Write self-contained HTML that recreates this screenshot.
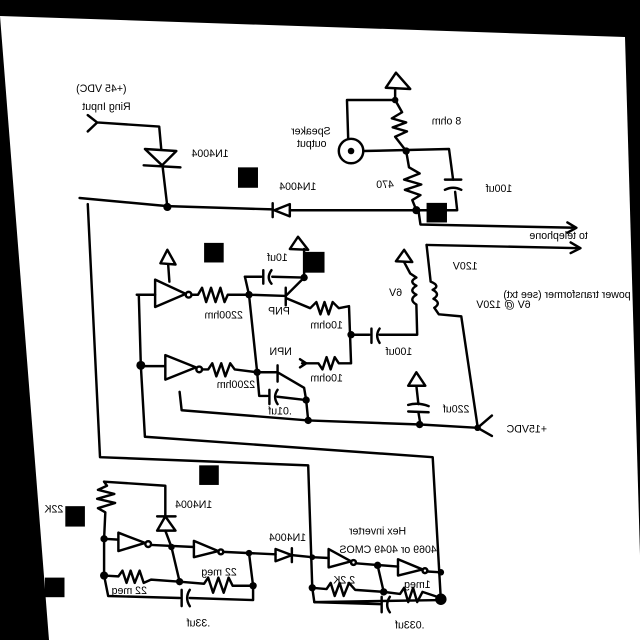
<!DOCTYPE html>
<html><head><meta charset="utf-8"><style>
html,body{margin:0;padding:0;background:#000;}
svg{display:block}
text{font-family:"Liberation Sans",sans-serif;fill:#000;}
</style></head><body>
<svg width="640" height="640" viewBox="0 0 640 640" xmlns="http://www.w3.org/2000/svg">
<rect width="640" height="640" fill="#000"/>
<polygon points="0,16 625,37 640,555 640,640 49,640" fill="#fff"/>
<g transform="scale(0.4082)" fill="none" stroke="#000" stroke-width="6" stroke-linejoin="round" stroke-linecap="round">
<path d="M215,282 L238,300 L215,322 M238,300 L390,310 L395,365"/>
<polygon points="355,365 432,370 397,405"/>
<path d="M352,405 L442,410 M398,405 L410,507"/>
<path d="M195,485 L410,505 L668,513 M710,515 L1020,515 L1120,515 L1115,470"/>
<polygon points="672,515 710,500 710,530"/>
<path d="M668,498 L668,532"/>
<polygon points="970,178 945,215 1005,218"/>
<path d="M968,220 L968,245 L850,245 L853,340"/>
<circle cx="860" cy="370" r="30"/>
<path d="M890,370 L1100,365 L1110,440"/>
<path d="M968,245 L985,275 L960,290 L995,300 L962,312 L997,322 L968,335 L995,370"/>
<path d="M995,370 L1002,410 L1028,425 L990,440 L1032,452 L992,465 L1030,478 L1010,490 L1020,515"/>
<path d="M1090,440 L1130,440 M1090,465 Q1110,455 1130,465"/>
<path d="M1025,515 L1030,550 L1410,558 M1390,545 L1412,558 L1390,570"/>
<path d="M1045,600 L1420,608 M1398,594 L1422,608 L1398,620"/>
<path d="M1045,600 L1055,690 Q1080,700 1060,710 Q1080,720 1062,732 Q1082,742 1064,754 L1075,770 L1130,775 L1170,1045"/>
<polygon points="990,612 970,640 1010,642"/>
<path d="M990,642 L1005,670 L1020,680 Q1000,690 1020,700 Q1000,712 1020,722 Q1000,734 1020,746 L1022,820 L930,820"/>
<polygon points="410,612 393,645 430,648"/>
<path d="M412,648 L415,690"/>
<polygon points="380,685 380,752 455,720"/>
<circle cx="462" cy="722" r="7"/>
<path d="M470,722 L485,722 L495,705 L505,740 L517,705 L528,740 L540,705 L550,740 L558,722 L610,722 M335,722 L380,722 M340,722 L345,895"/>
<path d="M610,722 L700,725 M700,705 L700,748 M700,725 L745,680 M700,730 L760,755 L775,740 L785,770 L795,740 L805,770 L815,740 L830,755 L855,750 L860,890 L830,890 L820,875 L810,905 L800,875 L790,905 L780,890 L740,890"/>
<path d="M600,678 L640,678 M645,662 L645,695 M665,662 Q652,680 665,695 M667,678 L745,680 L745,610"/>
<polygon points="730,580 710,610 755,612"/>
<path d="M600,678 L610,722 L630,912"/>
<path d="M860,820 L905,820 M910,805 L910,840 M930,805 Q918,822 930,840"/>
<polygon points="405,870 405,930 480,900"/>
<circle cx="488" cy="905" r="7"/>
<path d="M345,897 L405,897 M495,905 L510,905 L520,890 L530,922 L542,890 L552,922 L564,890 L575,905 L630,912 L680,912 M680,895 L680,935 M680,912 L745,950 L750,980 M735,880 L750,890 L735,900"/>
<path d="M630,912 L635,970 L655,970 M660,955 L660,990 M680,955 Q668,972 680,990 M680,972 L750,980 L755,1030"/>
<path d="M440,960 L445,1005 L755,1030 L1030,1040 L1170,1048 M1170,1048 L1205,1018 M1170,1048 L1205,1068"/>
<polygon points="1020,912 1000,945 1042,945"/>
<path d="M1020,945 L1025,990 M1000,992 Q1025,985 1050,995 M1000,1008 L1050,1010 M1025,1010 L1030,1040"/>
<path d="M345,895 L355,1070 L1060,1120 L1080,1470"/>
<path d="M215,500 L245,1120 L755,1140 L765,1440 L770,1475 L1080,1470"/>
<path d="M255,1180 L405,1190 L405,1265 M405,1300 L420,1340"/>
<polygon points="405,1265 385,1300 430,1300"/>
<path d="M385,1265 L430,1265"/>
<path d="M255,1180 L262,1190 L240,1200 L280,1210 L238,1222 L282,1232 L240,1245 L258,1255 L255,1320"/>
<polygon points="290,1305 290,1350 355,1330"/>
<circle cx="363" cy="1333" r="7"/>
<path d="M255,1320 L290,1322 M370,1335 L475,1340"/>
<polygon points="475,1325 475,1365 535,1350"/>
<circle cx="541" cy="1352" r="6"/>
<path d="M547,1352 L675,1358 M715,1360 L765,1365"/>
<polygon points="675,1345 675,1375 715,1360"/>
<path d="M715,1343 L715,1377"/>
<path d="M255,1320 L255,1410 L290,1412 L300,1398 L310,1428 L320,1398 L330,1428 L342,1398 L352,1428 L370,1420 L440,1425 L500,1430 L510,1415 L522,1452 L535,1415 L548,1452 L560,1415 L570,1435 L620,1435 L610,1355"/>
<path d="M420,1340 L440,1425"/>
<path d="M255,1410 L265,1460 L440,1465 M445,1445 L445,1485 M465,1445 Q452,1465 465,1485 M465,1465 L620,1470 L620,1435"/>
<polygon points="805,1345 805,1390 860,1375"/>
<circle cx="866" cy="1378" r="6"/>
<path d="M765,1365 L805,1367 M872,1380 L975,1388"/>
<polygon points="975,1370 975,1410 1035,1395"/>
<circle cx="1041" cy="1398" r="6"/>
<path d="M1047,1400 L1080,1402 M925,1385 L940,1450"/>
<path d="M765,1440 L800,1443 L810,1428 L820,1460 L832,1428 L842,1460 L855,1428 L870,1445 L940,1450 L980,1455 L990,1440 L1000,1475 L1012,1440 L1022,1475 L1035,1450 L1080,1465"/>
<path d="M770,1475 L932,1480 M935,1462 L935,1500 M955,1462 Q942,1482 955,1500"/>
</g>
<g transform="scale(0.4082)" fill="#000">
<circle cx="410" cy="507" r="10"/><circle cx="968" cy="245" r="8"/><circle cx="995" cy="370" r="9"/>
<circle cx="1020" cy="515" r="10"/><circle cx="610" cy="722" r="9"/><circle cx="745" cy="680" r="9"/>
<circle cx="345" cy="895" r="11"/><circle cx="630" cy="912" r="9"/><circle cx="750" cy="980" r="9"/>
<circle cx="755" cy="1030" r="9"/><circle cx="860" cy="820" r="9"/><circle cx="1028" cy="1040" r="9"/>
<circle cx="1170" cy="1048" r="8"/><circle cx="860" cy="370" r="8"/>
<circle cx="255" cy="1320" r="9"/><circle cx="255" cy="1410" r="10"/><circle cx="420" cy="1340" r="8"/>
<circle cx="440" cy="1425" r="9"/><circle cx="610" cy="1355" r="8"/><circle cx="620" cy="1435" r="9"/>
<circle cx="765" cy="1365" r="7"/><circle cx="765" cy="1440" r="9"/><circle cx="925" cy="1385" r="9"/>
<circle cx="940" cy="1450" r="9"/><circle cx="1080" cy="1402" r="8"/><circle cx="1080" cy="1468" r="14"/>
<rect x="583" y="410" width="49" height="50"/><rect x="1045" y="497" width="50" height="48"/>
<rect x="500" y="595" width="48" height="48"/><rect x="745" y="617" width="50" height="51"/>
<rect x="488" y="1140" width="48" height="48"/><rect x="160" y="1240" width="48" height="50"/>
<rect x="110" y="1415" width="48" height="48"/>
</g>
<g transform="scale(0.4082)" font-size="26">
<text transform="translate(310,225) scale(-1,1)">(+45 VDC)</text>
<text transform="translate(320,270) scale(-1,1)">Ring Input</text>
<text transform="translate(560,385) scale(-1,1)">1N4004</text>
<text transform="translate(775,465) scale(-1,1)">1N4004</text>
<text transform="translate(1130,305) scale(-1,1)">8 ohm</text>
<text transform="translate(810,330) scale(-1,1)">Speaker</text>
<text transform="translate(800,360) scale(-1,1)">output</text>
<text transform="translate(965,460) scale(-1,1)">470</text>
<text transform="translate(1255,470) scale(-1,1)">100uf</text>
<text transform="translate(1440,585) scale(-1,1)">to telephone</text>
<text transform="translate(1170,660) scale(-1,1)">120V</text>
<text transform="translate(1545,730) scale(-1,1)">power transformer (see txt)</text>
<text transform="translate(1300,755) scale(-1,1)">6V @ 120V</text>
<text transform="translate(985,725) scale(-1,1)">6V</text>
<text transform="translate(705,640) scale(-1,1)">10uf</text>
<text transform="translate(595,780) scale(-1,1)">2200hm</text>
<text transform="translate(710,770) scale(-1,1)">PNP</text>
<text transform="translate(840,805) scale(-1,1)">10ohm</text>
<text transform="translate(1010,870) scale(-1,1)">100uf</text>
<text transform="translate(715,870) scale(-1,1)">NPN</text>
<text transform="translate(840,935) scale(-1,1)">10ohm</text>
<text transform="translate(625,950) scale(-1,1)">2200hm</text>
<text transform="translate(715,1015) scale(-1,1)">.01uf</text>
<text transform="translate(1150,1010) scale(-1,1)">220uf</text>
<text transform="translate(1340,1060) scale(-1,1)">+15VDC</text>
<text transform="translate(520,1245) scale(-1,1)">1N4004</text>
<text transform="translate(155,1255) scale(-1,1)">22K</text>
<text transform="translate(750,1325) scale(-1,1)">1N4004</text>
<text transform="translate(995,1310) scale(-1,1)">Hex inverter</text>
<text transform="translate(1070,1355) scale(-1,1)">4069 or 4049 CMOS</text>
<text transform="translate(580,1410) scale(-1,1)">22 meg</text>
<text transform="translate(360,1455) scale(-1,1)">22 meg</text>
<text transform="translate(870,1430) scale(-1,1)">2.2K</text>
<text transform="translate(1055,1440) scale(-1,1)">1meg</text>
<text transform="translate(515,1535) scale(-1,1)">.33uf</text>
<text transform="translate(1040,1540) scale(-1,1)">.033uf</text>
</g>
</svg>
</body></html>
